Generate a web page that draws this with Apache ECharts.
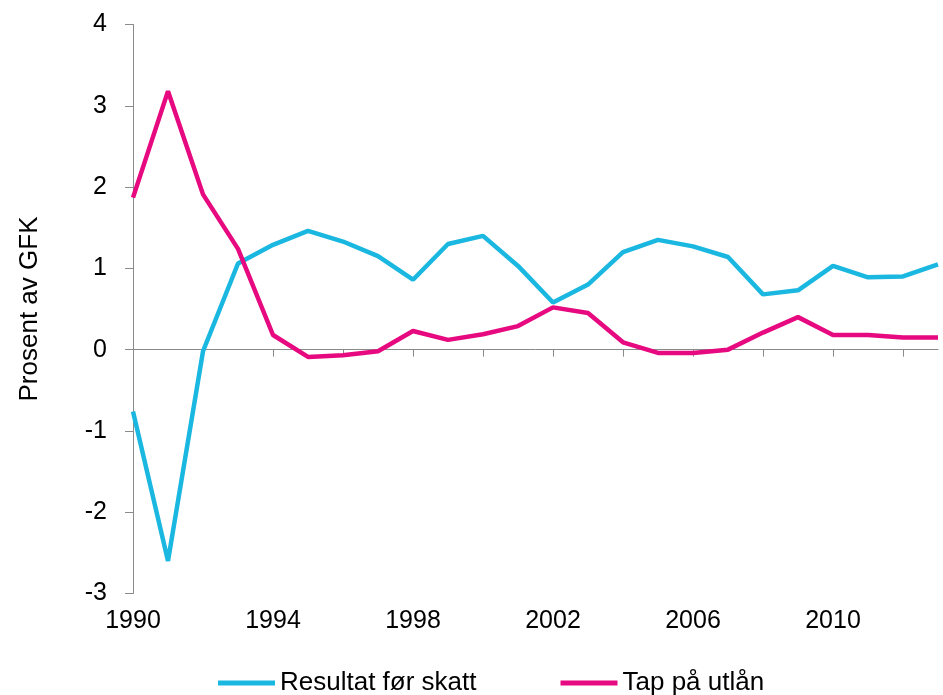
<!DOCTYPE html>
<html>
<head>
<meta charset="utf-8">
<script src="https://cdn.jsdelivr.net/npm/echarts@6/dist/echarts.min.js"></script>
<style>
html,body{margin:0;padding:0;background:#fff;}
#chart{width:943px;height:695px;}
</style>
</head>
<body>
<div id="chart"></div>
<script>
const years = ['1990','1991','1992','1993','1994','1995','1996','1997','1998','1999','2000','2001','2002','2003','2004','2005','2006','2007','2008','2009','2010','2011','2012','2013'];
const resultatForSkatt = [-0.76,-2.6,-0.02,1.06,1.29,1.46,1.33,1.15,0.86,1.30,1.40,1.03,0.58,0.80,1.20,1.35,1.27,1.14,0.68,0.73,1.03,0.89,0.90,1.05];
const tapPaUtlan = [1.87,3.18,1.91,1.24,0.18,-0.09,-0.07,-0.02,0.23,0.12,0.19,0.29,0.52,0.45,0.09,-0.04,-0.04,0.0,0.21,0.40,0.18,0.18,0.15,0.15];
const yTicks = {min:-3, max:4, interval:1};

const font = 'Liberation Sans, Arial, sans-serif';
const axisGray = '#8a8a8a';
const chart = echarts.init(document.getElementById('chart'));
chart.setOption({
  animation:false,
  backgroundColor:'#fff',
  grid:{left:133, right:5, top:24.5, bottom:101.5, containLabel:false},
  legend:{
    top:665, left:213,
    itemWidth:57, itemHeight:5, itemGap:84,
    icon:'rect',
    textStyle:{fontFamily:font, fontSize:26, color:'#000'},
    data:['Resultat før skatt','Tap på utlån']
  },
  xAxis:[
    {
      type:'category', data:years, boundaryGap:false, position:'bottom',
      axisLine:{show:false, onZero:false},
      axisTick:{show:false},
      axisLabel:{interval:3, margin:15, fontFamily:font, fontSize:25, color:'#000'},
      splitLine:{show:false}
    },
    {
      type:'category', data:years, boundaryGap:false, position:'bottom',
      axisLine:{show:true, onZero:true, lineStyle:{color:axisGray, width:1}},
      axisTick:{show:true, interval:1, length:7, inside:false, lineStyle:{color:axisGray}},
      axisLabel:{show:false},
      splitLine:{show:false}
    }
  ],
  yAxis:{
    type:'value', min:yTicks.min, max:yTicks.max, interval:yTicks.interval,
    name:'Prosent av GFK', nameLocation:'middle', nameGap:90, nameRotate:90,
    nameTextStyle:{fontFamily:font, fontSize:26, color:'#000'},
    axisLine:{show:true, lineStyle:{color:axisGray, width:1}},
    axisTick:{show:true, length:8, lineStyle:{color:axisGray}},
    axisLabel:{margin:26, fontFamily:font, fontSize:25, color:'#000'},
    splitLine:{show:false}
  },
  series:[
    {name:'Resultat før skatt', type:'line', data:resultatForSkatt, showSymbol:false, symbol:'none',
     lineStyle:{width:4.5, color:'#1ab7e0'}, itemStyle:{color:'#1ab7e0'}},
    {name:'Tap på utlån', type:'line', data:tapPaUtlan, showSymbol:false, symbol:'none',
     lineStyle:{width:4.5, color:'#e6097f'}, itemStyle:{color:'#e6097f'}}
  ]
});
</script>
</body>
</html>
